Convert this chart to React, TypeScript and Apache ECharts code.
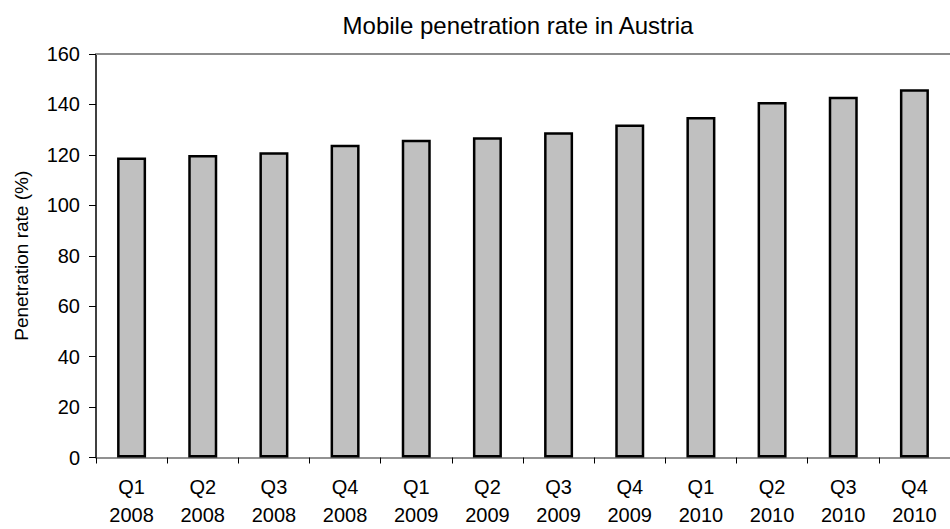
import React, { useEffect, useRef } from "react";
import * as echarts from "echarts";

const quarters = ["Q1", "Q2", "Q3", "Q4", "Q1", "Q2", "Q3", "Q4", "Q1", "Q2", "Q3", "Q4"];
const years = ["2008", "2008", "2008", "2008", "2009", "2009", "2009", "2009", "2010", "2010", "2010", "2010"];
const penetration = [119, 120, 121, 124, 126, 127, 129, 132, 135, 141, 143, 146];
const yTicks = { min: 0, max: 160, interval: 20 };

const categories = quarters.map((q, i) => `${q}\n${years[i]}`);

export default function App() {
  const ref = useRef<HTMLDivElement>(null);

  useEffect(() => {
    if (!ref.current) return;
    const chart = echarts.init(ref.current, null, { renderer: "svg" });
    const font = "Liberation Sans, Arial, sans-serif";
    chart.setOption({
      animation: false,
      backgroundColor: "#ffffff",
      title: {
        text: "Mobile penetration rate in Austria",
        left: 513,
        top: 8,
        textAlign: "center",
        textStyle: { fontFamily: font, fontSize: 24, fontWeight: "normal", color: "#000" },
      },
      grid: { left: 96, top: 54, width: 864, height: 403.5 },
      xAxis: [
        {
          type: "category",
          data: categories,
          position: "bottom",
          axisLine: { lineStyle: { color: "#6e6e6e", width: 1.5 } },
          axisTick: { show: true, length: 6, lineStyle: { color: "#000", width: 1 } },
          axisLabel: {
            fontFamily: font,
            fontSize: 20,
            color: "#000",
            lineHeight: 28,
            margin: 15,
            interval: 0,
          },
          splitLine: { show: false },
        },
        {
          type: "category",
          data: categories,
          position: "top",
          axisLine: { lineStyle: { color: "#8c8c8c", width: 2 } },
          axisTick: { show: false },
          axisLabel: { show: false },
        },
      ],
      yAxis: {
        type: "value",
        min: yTicks.min,
        max: yTicks.max,
        interval: yTicks.interval,
        name: "Penetration rate (%)",
        nameLocation: "middle",
        nameGap: 65,
        nameTextStyle: { fontFamily: font, fontSize: 19, color: "#000" },
        axisLine: { show: true, lineStyle: { color: "#000", width: 1.5 } },
        axisTick: { show: true, length: 7, lineStyle: { color: "#000", width: 1 } },
        axisLabel: { fontFamily: font, fontSize: 20, color: "#000", margin: 16 },
        splitLine: { show: false },
      },
      series: [
        {
          type: "bar",
          data: penetration,
          barWidth: 29,
          itemStyle: { color: "#c0c0c0", borderColor: "#000", borderWidth: 2.5 },
        },
      ],
    });
    return () => chart.dispose();
  }, []);

  return <div ref={ref} style={{ width: 950, height: 529, position: "absolute", left: 0, top: 0 }} />;
}
